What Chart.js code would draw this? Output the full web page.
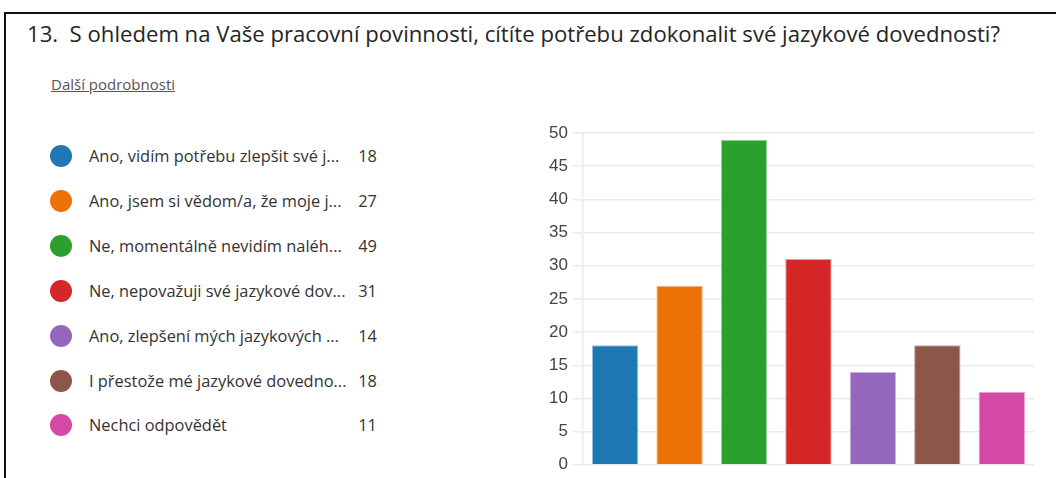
<!DOCTYPE html>
<html>
<head>
<meta charset="utf-8">
<script src="https://cdn.jsdelivr.net/npm/chart.js@4"></script>
<style>
  html, body { margin: 0; padding: 0; background: #fff; }
  body { width: 1056px; height: 478px; position: relative; overflow: hidden; font-family: "Open Sans", "Noto Sans", sans-serif; }
  .frame { position: absolute; left: 4px; top: 12px; right: -2px; bottom: -2px; border-top: 2px solid #111; border-left: 2px solid #111; }
  .title { position: absolute; left: 27px; top: 18px; font-size: 22px; color: #252525; white-space: nowrap; transform-origin: 0 0; }
  .more { position: absolute; left: 51px; top: 74px; font-size: 15px; color: #555; text-decoration: underline; }
  .legend { position: absolute; left: 0; top: 0; }
  .row { position: absolute; left: 50px; height: 22px; width: 340px; }
  .dot { position: absolute; left: 0; top: 0; width: 22px; height: 22px; border-radius: 50%; }
  .lab { position: absolute; left: 39px; top: 0; line-height: 22px; font-size: 16.4px; color: #333; white-space: nowrap; }
  .cnt { position: absolute; right: 13px; top: 0; line-height: 22px; font-size: 16.4px; color: #333; }
  .plot { position: absolute; left: 530px; top: 110px; width: 510px; height: 370px; }
</style>
</head>
<body>
<div class="frame"></div>
<div class="title" id="title">13.&nbsp; S ohledem na Vaše pracovní povinnosti, cítíte potřebu zdokonalit své jazykové dovednosti?</div>
<div class="more">Další podrobnosti</div>
<div class="legend" id="legend"></div>
<div class="plot"><canvas id="chart-answers"></canvas></div>
<script>
const answerLabels = [
  `Ano, vidím potřebu zlepšit své j...`,
  `Ano, jsem si vědom/a, že moje j...`,
  `Ne, momentálně nevidím naléh...`,
  `Ne, nepovažuji své jazykové dov...`,
  `Ano, zlepšení mých jazykových ...`,
  `I přestože mé jazykové dovedno...`,
  `Nechci odpovědět`
];
const answerCounts = [18, 27, 49, 31, 14, 18, 11];
const answerColors = [`#1f77b4`, `#ec7208`, `#2ca02c`, `#d62728`, `#9467bd`, `#8c564b`, `#d548a6`];
const answerBorders = [`#9cc0dd`, `#f6b884`, `#a3d4a3`, `#eb9a9a`, `#c9b5e0`, `#c4a7a0`, `#eca6d4`];

// title is a condensed font in the original, squeeze it to width
const title = document.getElementById('title');
const titleWidth = title.getBoundingClientRect().width;
title.style.transform = `scaleX(${973 / titleWidth})`;

const legend = document.getElementById('legend');
answerLabels.forEach((label, i) => {
  const row = document.createElement('div');
  row.className = 'row';
  row.style.top = `${145 + i * 44.9}px`;
  row.innerHTML = `<div class="dot" style="background:${answerColors[i]}"></div>` +
    `<div class="lab">${label}</div><div class="cnt">${answerCounts[i]}</div>`;
  legend.appendChild(row);
});

const answers = document.getElementById('chart-answers');
new Chart(answers, {
  type: `bar`,
  data: {
    labels: answerLabels,
    datasets: [
      {
        data: answerCounts,
        backgroundColor: answerColors,
        borderColor: answerBorders,
        borderWidth: 1,
        categoryPercentage: 0.72,
        barPercentage: 1
      }
    ]
  },
  options: {
    responsive: true,
    maintainAspectRatio: false,
    animation: false,
    layout: { padding: { top: 23, bottom: 9, right: 6, left: 14 } },
    plugins: { legend: { display: false }, tooltip: { enabled: false } },
    scales: {
      x: { display: false },
      y: {
        min: 0,
        max: 50,
        ticks: { stepSize: 5, padding: 5, color: `#444`, font: { family: `Liberation Sans`, size: 17 } },
        grid: { color: `#ebebeb`, lineWidth: 1.5, tickLength: 10 },
        border: { color: `#ebebeb`, width: 1.5 }
      }
    }
  }
});
</script>
</body>
</html>
